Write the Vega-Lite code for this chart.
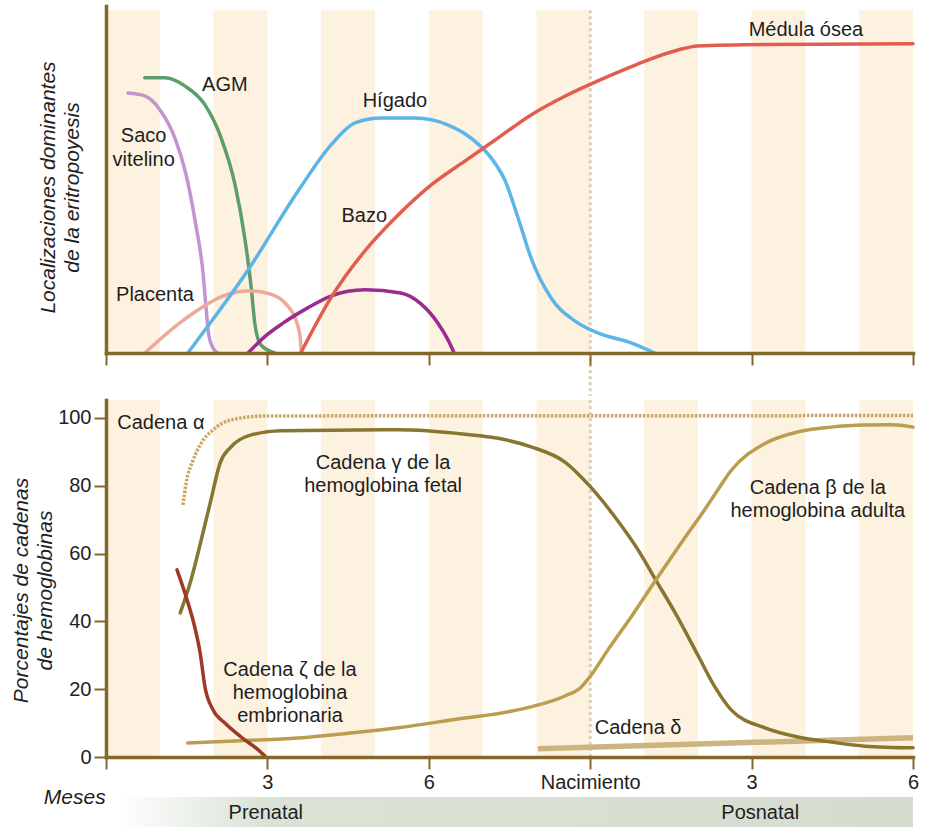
{
  "$schema": "https://vega.github.io/schema/vega-lite/v6.json",
  "background": "white",
  "padding": {"left": 10, "top": 6, "right": 5, "bottom": 0},
  "spacing": 0,
  "resolve": {"scale": {"color": "independent"}},
  "config": {
    "font": "Liberation Sans",
    "view": {"stroke": null},
    "axis": {
      "zindex": 1,
      "domainColor": "#84672a", "domainWidth": 3.5, "domainCap": "square",
      "tickColor": "#84672a", "tickWidth": 2, "tickSize": 12, "grid": false,
      "labelFont": "Liberation Sans", "labelFontSize": 20, "labelColor": "#222222",
      "titleFont": "Liberation Sans", "titleFontSize": 21, "titleFontWeight": "normal",
      "titleFontStyle": "italic", "titleColor": "#222222"
    },
    "text": {"font": "Liberation Sans", "fontSize": 20, "color": "#1e1e1e"}
  },
  "datasets": {
    "stripes": [
      {"start": 0, "end": 1}, {"start": 2, "end": 3}, {"start": 4, "end": 5}, {"start": 6, "end": 7},
      {"start": 8, "end": 9}, {"start": 10, "end": 11}, {"start": 12, "end": 13}, {"start": 14, "end": 15}
    ],
    "top": [
      {"s": "Saco vitelino", "m": 0.41, "v": 74.9}, {"s": "Saco vitelino", "m": 0.72, "v": 74.1},
      {"s": "Saco vitelino", "m": 1.02, "v": 69.7}, {"s": "Saco vitelino", "m": 1.28, "v": 62.0},
      {"s": "Saco vitelino", "m": 1.49, "v": 51.3}, {"s": "Saco vitelino", "m": 1.67, "v": 36.9},
      {"s": "Saco vitelino", "m": 1.80, "v": 23.6}, {"s": "Saco vitelino", "m": 1.86, "v": 13.0},
      {"s": "Saco vitelino", "m": 1.91, "v": 5.2}, {"s": "Saco vitelino", "m": 1.99, "v": 1.4},
      {"s": "Saco vitelino", "m": 2.08, "v": 0},
      {"s": "AGM", "m": 0.72, "v": 79.3}, {"s": "AGM", "m": 1.10, "v": 79.3}, {"s": "AGM", "m": 1.47, "v": 76.9},
      {"s": "AGM", "m": 1.84, "v": 71.5}, {"s": "AGM", "m": 2.14, "v": 62.0}, {"s": "AGM", "m": 2.40, "v": 48.4},
      {"s": "AGM", "m": 2.58, "v": 33.1}, {"s": "AGM", "m": 2.70, "v": 18.7}, {"s": "AGM", "m": 2.77, "v": 8.1},
      {"s": "AGM", "m": 2.88, "v": 2.3}, {"s": "AGM", "m": 3.14, "v": 0},
      {"s": "Placenta", "m": 0.72, "v": 0}, {"s": "Placenta", "m": 1.25, "v": 7.2}, {"s": "Placenta", "m": 1.71, "v": 12.4},
      {"s": "Placenta", "m": 2.17, "v": 16.4}, {"s": "Placenta", "m": 2.64, "v": 17.9}, {"s": "Placenta", "m": 3.05, "v": 17.0},
      {"s": "Placenta", "m": 3.38, "v": 13.5}, {"s": "Placenta", "m": 3.55, "v": 8.6}, {"s": "Placenta", "m": 3.61, "v": 4.3},
      {"s": "Placenta", "m": 3.63, "v": 0},
      {"s": "Hígado", "m": 1.52, "v": 0}, {"s": "Hígado", "m": 2.64, "v": 23.9}, {"s": "Hígado", "m": 3.57, "v": 46.7},
      {"s": "Hígado", "m": 4.18, "v": 59.9}, {"s": "Hígado", "m": 4.63, "v": 66.3}, {"s": "Hígado", "m": 5.11, "v": 67.7},
      {"s": "Hígado", "m": 5.74, "v": 67.7}, {"s": "Hígado", "m": 6.36, "v": 65.7}, {"s": "Hígado", "m": 6.78, "v": 62.0},
      {"s": "Hígado", "m": 7.16, "v": 56.2}, {"s": "Hígado", "m": 7.42, "v": 49.6}, {"s": "Hígado", "m": 7.66, "v": 38.9},
      {"s": "Hígado", "m": 7.90, "v": 27.4}, {"s": "Hígado", "m": 8.27, "v": 15.9}, {"s": "Hígado", "m": 8.72, "v": 9.2},
      {"s": "Hígado", "m": 9.14, "v": 5.8}, {"s": "Hígado", "m": 9.76, "v": 2.9}, {"s": "Hígado", "m": 10.20, "v": 0},
      {"s": "Bazo", "m": 2.64, "v": 0}, {"s": "Bazo", "m": 2.92, "v": 4.3}, {"s": "Bazo", "m": 3.29, "v": 8.6},
      {"s": "Bazo", "m": 3.75, "v": 13.0}, {"s": "Bazo", "m": 4.18, "v": 16.4}, {"s": "Bazo", "m": 4.81, "v": 18.2},
      {"s": "Bazo", "m": 5.48, "v": 17.3}, {"s": "Bazo", "m": 5.86, "v": 14.1}, {"s": "Bazo", "m": 6.17, "v": 8.6},
      {"s": "Bazo", "m": 6.36, "v": 3.7}, {"s": "Bazo", "m": 6.47, "v": 0},
      {"s": "Médula ósea", "m": 3.62, "v": 0}, {"s": "Médula ósea", "m": 4.18, "v": 15.9}, {"s": "Médula ósea", "m": 4.81, "v": 29.4},
      {"s": "Médula ósea", "m": 5.43, "v": 39.8}, {"s": "Médula ósea", "m": 6.04, "v": 48.4}, {"s": "Médula ósea", "m": 6.67, "v": 55.3},
      {"s": "Médula ósea", "m": 7.29, "v": 62.0}, {"s": "Médula ósea", "m": 7.90, "v": 68.6}, {"s": "Médula ósea", "m": 8.53, "v": 74.0},
      {"s": "Médula ósea", "m": 9.01, "v": 77.5}, {"s": "Médula ósea", "m": 9.70, "v": 82.1}, {"s": "Médula ósea", "m": 10.07, "v": 84.4},
      {"s": "Médula ósea", "m": 10.63, "v": 87.3}, {"s": "Médula ósea", "m": 11.0, "v": 88.5}, {"s": "Médula ósea", "m": 12.25, "v": 88.9},
      {"s": "Médula ósea", "m": 15.0, "v": 89.1}
    ],
    "toplabels": [
      {"t": "AGM", "m": 2.21, "v": 77.2},
      {"t": "Saco\nvitelino", "m": 0.70, "v": 62.4},
      {"t": "Placenta", "m": 0.91, "v": 16.7},
      {"t": "Hígado", "m": 5.37, "v": 72.6},
      {"t": "Bazo", "m": 4.8, "v": 39.5},
      {"t": "Médula ósea", "m": 13.01, "v": 93.1}
    ],
    "chains": [
      {"s": "gamma", "m": 1.38, "v": 42.5}, {"s": "gamma", "m": 1.58, "v": 52.2}, {"s": "gamma", "m": 1.77, "v": 64.0},
      {"s": "gamma", "m": 1.95, "v": 75.8}, {"s": "gamma", "m": 2.12, "v": 86.7}, {"s": "gamma", "m": 2.32, "v": 91.4},
      {"s": "gamma", "m": 2.70, "v": 95.0}, {"s": "gamma", "m": 3.25, "v": 96.2}, {"s": "gamma", "m": 5.43, "v": 96.5},
      {"s": "gamma", "m": 6.67, "v": 95.2}, {"s": "gamma", "m": 7.29, "v": 94.0}, {"s": "gamma", "m": 7.90, "v": 91.5},
      {"s": "gamma", "m": 8.53, "v": 87.0}, {"s": "gamma", "m": 9.01, "v": 79.6}, {"s": "gamma", "m": 9.46, "v": 70.8},
      {"s": "gamma", "m": 9.89, "v": 61.1}, {"s": "gamma", "m": 10.22, "v": 52.2}, {"s": "gamma", "m": 10.58, "v": 42.5},
      {"s": "gamma", "m": 11.0, "v": 30.1}, {"s": "gamma", "m": 11.32, "v": 20.6}, {"s": "gamma", "m": 11.62, "v": 13.9},
      {"s": "gamma", "m": 12.25, "v": 8.6}, {"s": "gamma", "m": 12.86, "v": 5.9}, {"s": "gamma", "m": 13.48, "v": 4.4},
      {"s": "gamma", "m": 14.11, "v": 3.2}, {"s": "gamma", "m": 15.0, "v": 2.7},
      {"s": "beta", "m": 1.52, "v": 4.1}, {"s": "beta", "m": 2.5, "v": 4.8}, {"s": "beta", "m": 3.57, "v": 5.6},
      {"s": "beta", "m": 4.5, "v": 7.0}, {"s": "beta", "m": 5.43, "v": 8.6}, {"s": "beta", "m": 6.67, "v": 11.5},
      {"s": "beta", "m": 7.29, "v": 12.8}, {"s": "beta", "m": 7.90, "v": 14.8}, {"s": "beta", "m": 8.53, "v": 18.0},
      {"s": "beta", "m": 8.83, "v": 20.6}, {"s": "beta", "m": 9.01, "v": 24.0}, {"s": "beta", "m": 9.33, "v": 31.6},
      {"s": "beta", "m": 9.76, "v": 41.3}, {"s": "beta", "m": 10.22, "v": 52.2}, {"s": "beta", "m": 10.69, "v": 63.1},
      {"s": "beta", "m": 11.13, "v": 73.0}, {"s": "beta", "m": 11.38, "v": 79.0}, {"s": "beta", "m": 11.62, "v": 84.5},
      {"s": "beta", "m": 12.25, "v": 92.5}, {"s": "beta", "m": 12.86, "v": 95.9}, {"s": "beta", "m": 13.48, "v": 97.3},
      {"s": "beta", "m": 14.11, "v": 97.9}, {"s": "beta", "m": 14.6, "v": 98.0}, {"s": "beta", "m": 15.0, "v": 97.3},
      {"s": "zeta", "m": 1.32, "v": 55.2}, {"s": "zeta", "m": 1.49, "v": 47.2}, {"s": "zeta", "m": 1.65, "v": 38.3},
      {"s": "zeta", "m": 1.75, "v": 30.7}, {"s": "zeta", "m": 1.84, "v": 20.6}, {"s": "zeta", "m": 1.99, "v": 13.9},
      {"s": "zeta", "m": 2.21, "v": 10.0}, {"s": "zeta", "m": 2.51, "v": 5.9}, {"s": "zeta", "m": 2.83, "v": 2.1},
      {"s": "zeta", "m": 2.97, "v": 0}
    ],
    "alpha": [
      {"m": 1.43, "v": 74.3}, {"m": 1.49, "v": 80.8}, {"m": 1.62, "v": 87.6}, {"m": 1.77, "v": 92.6},
      {"m": 1.99, "v": 96.5}, {"m": 2.32, "v": 99.4}, {"m": 2.96, "v": 100.6}, {"m": 15.0, "v": 100.7}
    ],
    "delta": [
      {"m": 8.03, "v": 2.4}, {"m": 15.0, "v": 5.7}
    ],
    "botlabels": [
      {"t": "Cadena α", "m": 1.02, "v": 98.5},
      {"t": "Cadena γ de la\nhemoglobina fetal", "m": 5.15, "v": 86.6},
      {"t": "Cadena ζ de la\nhemoglobina\nembrionaria", "m": 3.42, "v": 25.7},
      {"t": "Cadena β de la\nhemoglobina adulta", "m": 13.23, "v": 79.3},
      {"t": "Cadena δ", "m": 9.89, "v": 8.6},
      {"t": "Prenatal", "m": 2.97, "v": -16.4},
      {"t": "Posnatal", "m": 12.16, "v": -16.4}
    ]
  },
  "vconcat": [
    {
      "width": 807,
      "height": 347,
      "layer": [
        {
          "data": {"name": "stripes"},
          "mark": {"type": "rect", "color": "#fdf2e0"},
          "encoding": {
            "x": {"field": "start", "type": "quantitative", "scale": {"domain": [0, 15], "nice": false},
                  "axis": {"values": [0, 3, 6, 9, 12, 15], "labels": false, "title": null, "zindex": 2}},
            "x2": {"field": "end"},
            "y": {"datum": 0, "type": "quantitative", "scale": {"domain": [0, 100], "nice": false},
                  "axis": {"ticks": false, "labels": false, "zindex": 2,
                           "title": ["Localizaciones dominantes", "de la eritropoyesis"],
                           "titleX": -52, "titleY": 181, "titleAngle": -90, "titleAlign": "center",
                           "titleBaseline": "alphabetic", "titleLineHeight": 24}},
            "y2": {"datum": 98.8}
          }
        },
        {
          "data": {"values": [{"m": 9}]},
          "mark": {"type": "rule", "color": "#d9cfb6", "strokeWidth": 3, "strokeDash": [3, 3]},
          "encoding": {
            "x": {"field": "m", "type": "quantitative", "scale": {"domain": [0, 15], "nice": false}},
            "y": {"datum": 98.8, "type": "quantitative", "scale": {"domain": [0, 100], "nice": false}},
            "y2": {"datum": -12.4}
          }
        },
        {
          "data": {"name": "top"},
          "mark": {"type": "line", "interpolate": "monotone", "strokeWidth": 3.5, "strokeCap": "round"},
          "encoding": {
            "x": {"field": "m", "type": "quantitative", "scale": {"domain": [0, 15], "nice": false}},
            "y": {"field": "v", "type": "quantitative", "scale": {"domain": [0, 100], "nice": false}},
            "color": {"field": "s", "type": "nominal", "legend": null,
                      "scale": {"domain": ["Saco vitelino", "AGM", "Placenta", "Hígado", "Bazo", "Médula ósea"],
                                "range": ["#c394d2", "#5c9e6a", "#eeaa98", "#5cb5e6", "#9c2b8f", "#e25d4e"]}}
          }
        },
        {
          "data": {"name": "toplabels"},
          "mark": {"type": "text", "lineBreak": "\n", "lineHeight": 24, "align": "center", "baseline": "middle"},
          "encoding": {
            "x": {"field": "m", "type": "quantitative", "scale": {"domain": [0, 15], "nice": false}},
            "y": {"field": "v", "type": "quantitative", "scale": {"domain": [0, 100], "nice": false}},
            "text": {"field": "t"}
          }
        }
      ]
    },
    {
      "width": 807,
      "height": 357,
      "layer": [
        {
          "data": {"name": "stripes"},
          "mark": {"type": "rect", "color": "#fdf2e0"},
          "encoding": {
            "x": {"field": "start", "type": "quantitative", "scale": {"domain": [0, 15], "nice": false},
                  "axis": {"values": [0, 3, 6, 9, 12, 15], "title": null, "labelOverlap": false, "labelFlush": false,
                           "labelPadding": 3, "zindex": 2,
                           "labelExpr": "datum.value == 0 ? '' : datum.value == 9 ? 'Nacimiento' : datum.value == 12 ? '3' : datum.value == 15 ? '6' : datum.label"}},
            "x2": {"field": "end"},
            "y": {"datum": 0, "type": "quantitative", "scale": {"domain": [0, 105.3], "nice": false},
                  "axis": {"values": [0, 10, 20, 30, 40, 50, 60, 70, 80, 90, 100], "zindex": 2,
                           "labelExpr": "datum.value % 20 == 0 ? datum.label : ''",
                           "labelPadding": 3, "labelOverlap": false, "labelFlush": false,
                           "title": ["Porcentajes de cadenas", "de hemoglobinas"],
                           "titleX": -79, "titleY": 190, "titleAngle": -90, "titleAlign": "center",
                           "titleBaseline": "alphabetic", "titleLineHeight": 24}},
            "y2": {"datum": 105.3}
          }
        },
        {
          "data": {"values": [{"m": 9}]},
          "mark": {"type": "rule", "color": "#d9cfb6", "strokeWidth": 3, "strokeDash": [3, 3]},
          "encoding": {
            "x": {"field": "m", "type": "quantitative", "scale": {"domain": [0, 15], "nice": false}},
            "y": {"datum": 105.3, "type": "quantitative", "scale": {"domain": [0, 105.3], "nice": false}},
            "y2": {"datum": 0}
          }
        },
        {
          "data": {"name": "delta"},
          "mark": {"type": "line", "strokeWidth": 5.5, "color": "#cbb47f"},
          "encoding": {
            "x": {"field": "m", "type": "quantitative", "scale": {"domain": [0, 15], "nice": false}},
            "y": {"field": "v", "type": "quantitative", "scale": {"domain": [0, 105.3], "nice": false}}
          }
        },
        {
          "data": {"name": "alpha"},
          "mark": {"type": "line", "interpolate": "monotone", "strokeWidth": 3.5, "strokeDash": [2.5, 1.5], "color": "#c9a75f"},
          "encoding": {
            "x": {"field": "m", "type": "quantitative", "scale": {"domain": [0, 15], "nice": false}},
            "y": {"field": "v", "type": "quantitative", "scale": {"domain": [0, 105.3], "nice": false}}
          }
        },
        {
          "data": {"name": "chains"},
          "mark": {"type": "line", "interpolate": "monotone", "strokeWidth": 3.5, "strokeCap": "round"},
          "encoding": {
            "x": {"field": "m", "type": "quantitative", "scale": {"domain": [0, 15], "nice": false}},
            "y": {"field": "v", "type": "quantitative", "scale": {"domain": [0, 105.3], "nice": false}},
            "color": {"field": "s", "type": "nominal", "legend": null,
                      "scale": {"domain": ["beta", "gamma", "zeta"], "range": ["#bb9d4e", "#877530", "#9e3a24"]}}
          }
        },
        {
          "data": {"values": [{}]},
          "mark": {"type": "rect",
                   "color": {"gradient": "linear", "x1": 0, "y1": 0, "x2": 1, "y2": 0,
                             "stops": [{"offset": 0, "color": "#ffffff"}, {"offset": 0.18, "color": "#dbe3d7"}, {"offset": 1, "color": "#d3dccf"}]}},
          "encoding": {
            "x": {"datum": 0.19, "type": "quantitative", "scale": {"domain": [0, 15], "nice": false}},
            "x2": {"datum": 15},
            "y": {"datum": -11.8, "type": "quantitative", "scale": {"domain": [0, 105.3], "nice": false}},
            "y2": {"datum": -20.65}
          }
        },
        {
          "data": {"name": "botlabels"},
          "mark": {"type": "text", "lineBreak": "\n", "lineHeight": 23, "align": "center", "baseline": "middle"},
          "encoding": {
            "x": {"field": "m", "type": "quantitative", "scale": {"domain": [0, 15], "nice": false}},
            "y": {"field": "v", "type": "quantitative", "scale": {"domain": [0, 105.3], "nice": false}},
            "text": {"field": "t"}
          }
        },
        {
          "data": {"values": [{"t": "Meses", "m": -0.58, "v": -12.1}]},
          "mark": {"type": "text", "align": "center", "baseline": "middle", "fontStyle": "italic", "fontSize": 21},
          "encoding": {
            "x": {"field": "m", "type": "quantitative", "scale": {"domain": [0, 15], "nice": false}},
            "y": {"field": "v", "type": "quantitative", "scale": {"domain": [0, 105.3], "nice": false}},
            "text": {"field": "t"}
          }
        }
      ]
    }
  ]
}
